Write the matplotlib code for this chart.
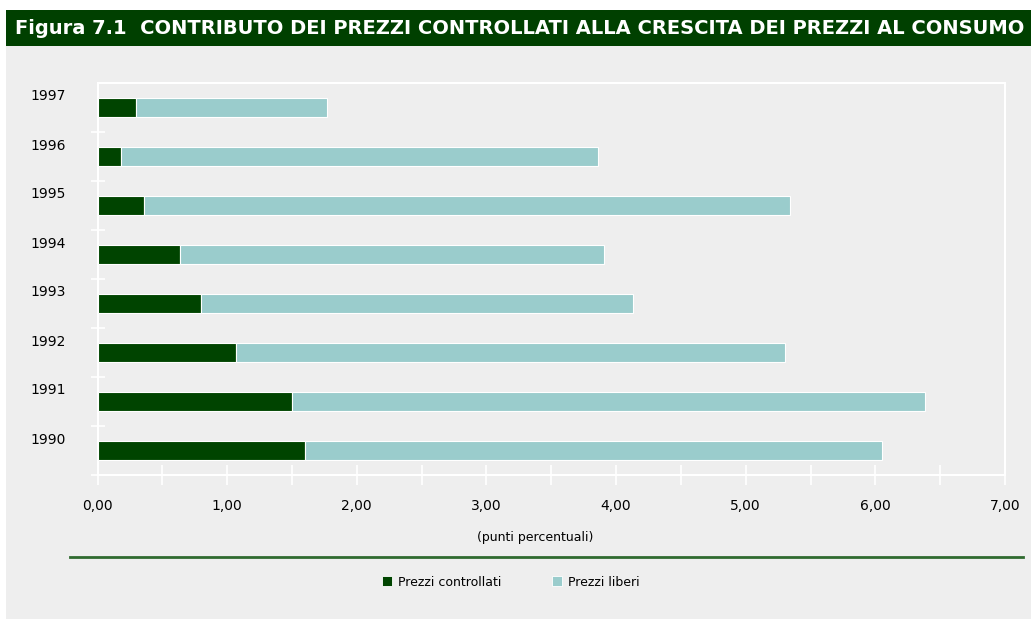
import matplotlib
matplotlib.use('Agg')
from matplotlib import pyplot as plt
from matplotlib.patches import Rectangle, Patch
from matplotlib.lines import Line2D
from matplotlib import transforms

years = ['1990', '1991', '1992', '1993', '1994', '1995', '1996', '1997']
controllati = [1.60, 1.50, 1.07, 0.80, 0.64, 0.36, 0.18, 0.30]
liberi = [4.45, 4.88, 4.23, 3.33, 3.27, 4.98, 3.68, 1.47]
x_ticks = [0, 1, 2, 3, 4, 5, 6, 7]
x_labels = ['0,00', '1,00', '2,00', '3,00', '4,00', '5,00', '6,00', '7,00']

dark = '#004400'
light = '#9acccc'
bg = '#eeeeee'
font = ['DejaVu Sans']

W, H = 1031, 619
fig = plt.figure(figsize=(W / 100, H / 100), dpi=100)
fig.patch.set_facecolor('white')

# gray page and green title band
fig.patches.append(Rectangle((6 / W, 0), 1 - 6 / W, 1 - 46 / H, transform=fig.transFigure,
                             facecolor=bg, edgecolor='none', zorder=0))
fig.patches.append(Rectangle((6 / W, 1 - 46 / H), 1 - 6 / W, 36 / H, transform=fig.transFigure,
                             facecolor='#004000', edgecolor='none', zorder=0))
fig.text(15 / W, 1 - 28 / H,
         'Figura 7.1  CONTRIBUTO DEI PREZZI CONTROLLATI ALLA CRESCITA DEI PREZZI AL CONSUMO',
         color='white', fontsize=14, fontweight='bold', family=font, va='center', ha='left')

ax = fig.add_axes([97.5 / W, 1 - 475 / H, (1005 - 97.5) / W, (475 - 83) / H])
ax.set_zorder(2)
ax.set_facecolor(bg)

pos = list(range(len(years)))
ax.barh(pos, controllati, height=0.37, color=dark, edgecolor='white', linewidth=0.8, zorder=3)
ax.barh(pos, liberi, left=controllati, height=0.37, color=light, edgecolor='white',
        linewidth=0.8, zorder=3)

ax.set_xlim(0, 7)
ax.set_ylim(-0.5, len(years) - 0.5)

for s in ax.spines.values():
    s.set_color('white')
    s.set_linewidth(1.5)

ax.set_xticks(x_ticks, x_labels, family=font, fontsize=10)
ax.set_xticks([x + 0.5 for x in x_ticks[:-1]], minor=True)
ax.tick_params(axis='x', which='both', direction='inout', length=14, width=1.2, color='white', pad=10)

ax.set_yticks(pos, years, family=font, fontsize=10)
ax.set_yticks([p - 0.5 for p in pos], minor=True)
ax.tick_params(axis='y', which='major', length=0, pad=48)
ax.tick_params(axis='y', which='minor', direction='inout', length=10, width=1.2, color='white')
off = transforms.ScaledTranslation(0, 9 / 72, fig.dpi_scale_trans)
for lab in ax.get_yticklabels():
    lab.set_horizontalalignment('left')
    lab.set_transform(lab.get_transform() + off)

fig.text(535 / W, 1 - 537 / H, '(punti percentuali)', family=font, fontsize=9,
         ha='center', va='center')

fig.lines.append(Line2D([70 / W, 1023 / W], [1 - 556.5 / H, 1 - 556.5 / H],
                        transform=fig.transFigure, color='#2f6a2f', linewidth=2))

handles = [Patch(facecolor=dark, edgecolor='white', linewidth=0.6),
           Patch(facecolor=light, edgecolor='white', linewidth=0.6)]
fig.legend(handles, ['Prezzi controllati', 'Prezzi liberi'], loc='center',
           bbox_to_anchor=(511 / W, 1 - 582 / H), ncol=2, frameon=False,
           handlelength=0.8, handleheight=0.8, handletextpad=0.5, columnspacing=4,
           prop={'family': font, 'size': 9})

plt.savefig('out.png', dpi=100, facecolor=fig.get_facecolor())
